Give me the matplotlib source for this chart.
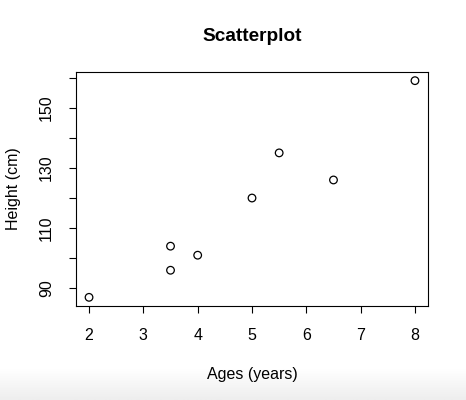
import matplotlib
matplotlib.use("Agg")
import matplotlib.pyplot as plt
import numpy as np

ages = [2, 3.5, 3.5, 4, 5, 5.5, 6.5, 8]
heights = [87, 104, 96, 101, 120, 135, 126, 159]
x_ticks = [2, 3, 4, 5, 6, 7, 8]
y_ticks = [90, 100, 110, 120, 130, 140, 150, 160]
y_tick_labels = ["90", "", "110", "", "130", "", "150", ""]

plt.rcParams['font.family'] = ['Liberation Sans', 'DejaVu Sans']

fig = plt.figure(figsize=(4.66, 4.0), dpi=100)
# subtle grey band at bottom (screenshot background)
grad = np.linspace(1.0, 0.93, 50).reshape(-1, 1)
bg = fig.add_axes([0, 0, 1, 0.08], zorder=-10)
bg.imshow(grad, aspect='auto', cmap='gray', vmin=0, vmax=1, extent=[0, 1, 0, 1])
bg.axis('off')

ax = fig.add_axes([76/466, 94/400, (428-76)/466, (306-72)/400])
ax.scatter(ages, heights, s=30, facecolors='none', edgecolors='black', linewidths=0.9)

xr = max(ages) - min(ages)
yr = max(heights) - min(heights)
ax.set_xlim(min(ages) - 0.04*xr, max(ages) + 0.04*xr)
ax.set_ylim(min(heights) - 0.04*yr, max(heights) + 0.04*yr)

ax.set_xticks(x_ticks)
ax.set_xticklabels([str(t) for t in x_ticks], fontsize=11.5)
ax.set_yticks(y_ticks)
ax.set_yticklabels(y_tick_labels, fontsize=11.5, rotation=90, va='center')
ax.tick_params(direction='out', length=5, width=0.8, pad=11)
for sp in ax.spines.values():
    sp.set_linewidth(0.8)

ax.set_title("Scatterplot", fontsize=13.7, fontweight='bold', pad=22)
ax.set_xlabel("Ages (years)", fontsize=11.5, labelpad=17)
ax.set_ylabel("Height (cm)", fontsize=11.5, labelpad=13)

fig.savefig("out.png", dpi=100)
